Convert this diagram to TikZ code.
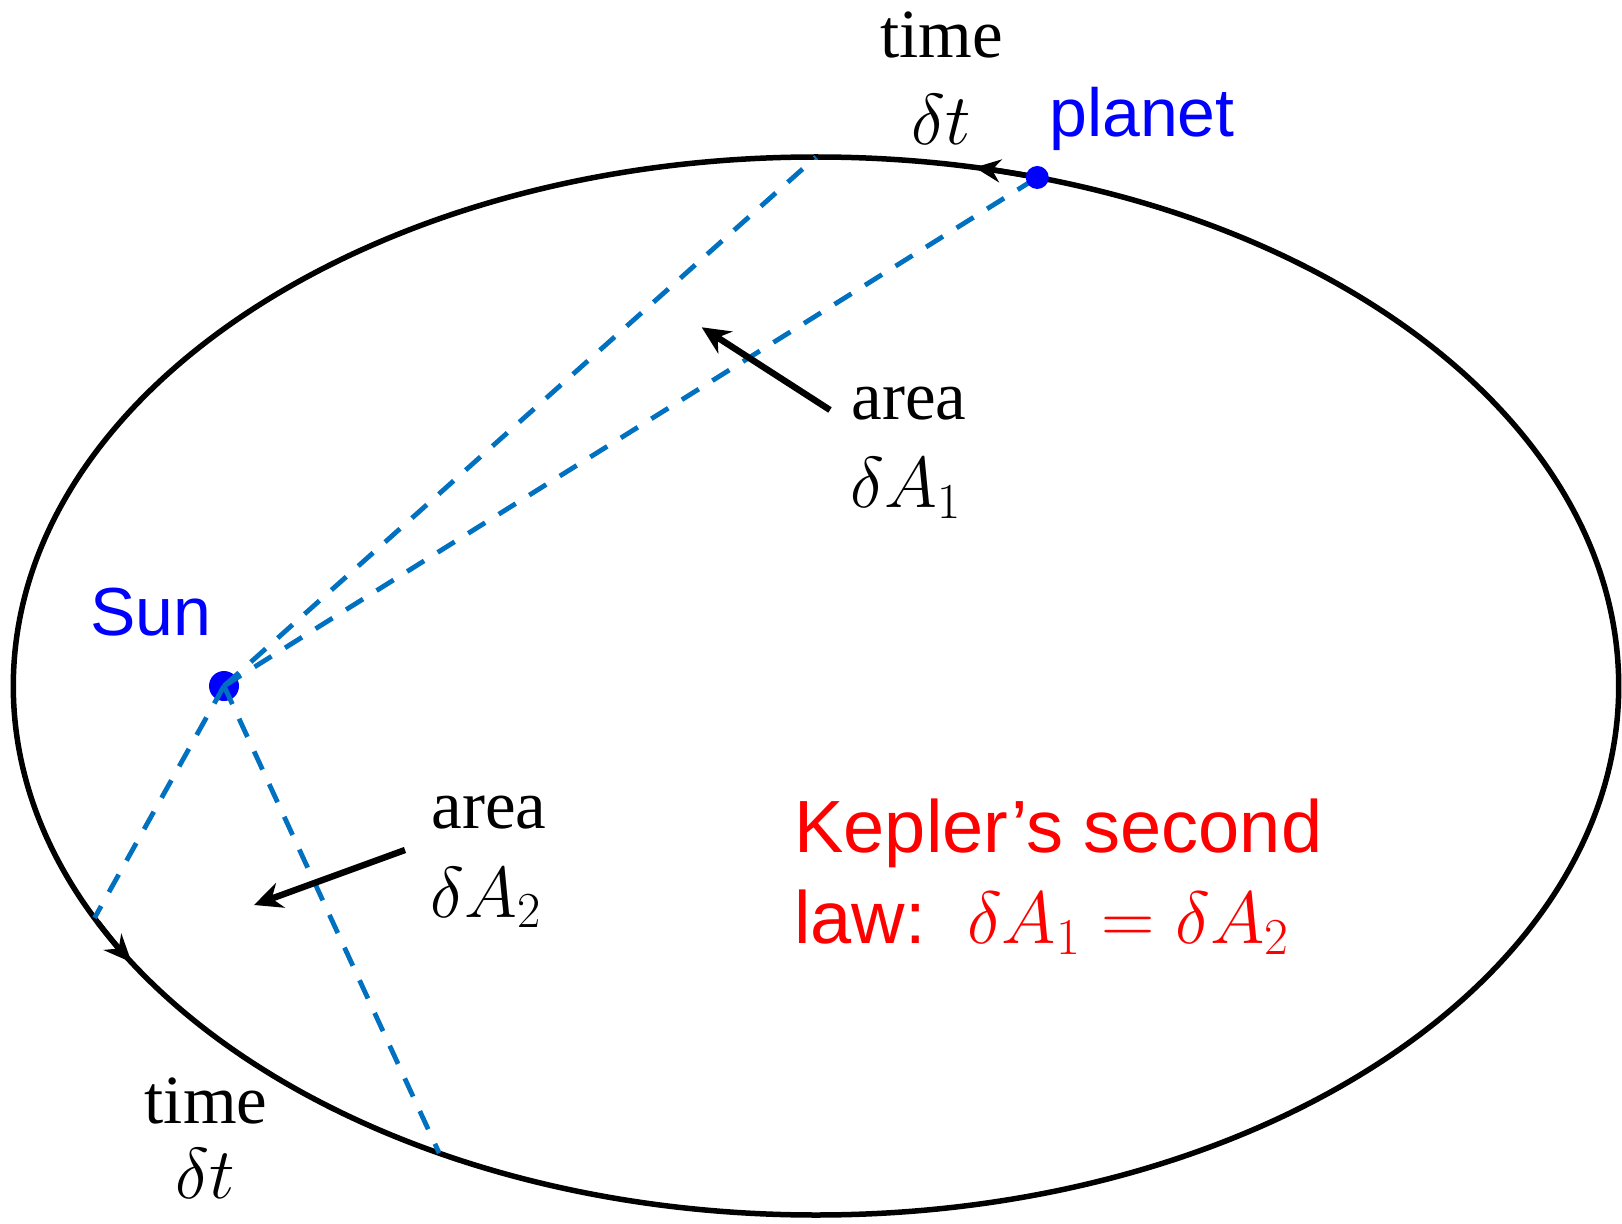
\RequirePackage{fix-cm}
\documentclass[tikz,border=0pt]{standalone}
\usepackage{fontspec}
\setmainfont{Liberation Serif}
\newfontfamily\arialfont{Liberation Sans}
\usetikzlibrary{arrows.meta}

\definecolor{rayblue}{RGB}{0,112,192}

\begin{document}
\begin{tikzpicture}[x=0.5pt,y=0.5pt,
  orbit/.style={line width=2.75pt},
  ray/.style={rayblue,line width=2.4pt,dash pattern=on 10pt off 8pt},
  body/.style={circle,fill=blue,inner sep=0pt},
  pointer/.style={line width=3.2pt,-{Stealth[length=14pt,width=13pt]}},
  txt/.style={inner sep=0pt,anchor=base,font=\fontsize{34.5}{40}\selectfont},
  sym/.style={inner sep=0pt,anchor=base,font=\fontsize{36}{40}\selectfont},
  lbl/.style={inner sep=0pt,anchor=base west,blue,font=\arialfont\fontsize{34}{40}\selectfont},
  law/.style={inner sep=0pt,anchor=base west,red,font=\arialfont\fontsize{37}{44}\selectfont}]
\useasboundingbox (0,0) rectangle (1622,1223);

% orbit and its direction
\coordinate (c) at (816,537);
\draw[orbit] (c) ellipse [x radius=802.7, y radius=529];
\draw[orbit,-{Stealth[length=13pt,width=11.5pt]}] (c) ++(74.5:802.7 and 529)
  arc [start angle=74.5, end angle=78.6, x radius=802.7, y radius=529];
\draw[orbit,-{Stealth[length=14pt,width=12pt]}] (c) ++(206.5:802.7 and 529)
  arc [start angle=206.5, end angle=211.5, x radius=802.7, y radius=529];

% sun, points on the orbit
\node[body,minimum size=15pt] (sun) at (224,537) {};
\path (c) +(90:802.7 and 529) coordinate (top)
          +(74:802.7 and 529) coordinate (p)
          +(206:802.7 and 529) coordinate (lowa)
          +(242:802.7 and 529) coordinate (lowb);

% swept areas
\draw[ray] (sun.center) -- (top);
\draw[ray] (sun.center) -- (p);
\draw[ray] (sun.center) -- (lowa);
\draw[ray] (sun.center) -- (lowb);
\node[body,minimum size=11.5pt] (planet) at (p) {};

% labels
\node[lbl] (sunlbl) at (90,588) {Sun};
\node[lbl] (planetlbl) at (1049,1086) {planet};
\node[txt] (time1) at (941.5,1165) {time};
\node[sym] (dt1) at (941,1078) {$\delta t$};
\node[txt] (time2) at (206,100) {time};
\node[sym] (dt2) at (205,25) {$\delta t$};
\node[txt] (area1) at (909,803) {area};
\node[sym] (dA1) at (906,715) {$\delta A_1$};
\node[txt] (area2) at (489,395) {area};
\node[sym] (dA2) at (486,306) {$\delta A_2$};
\node[law] (law1) at (794,371) {Kepler’s second};
\node[law] (law2) at (794,280) {law:\ \ $\delta A_1=\delta A_2$};

% pointers
\coordinate (a1tail) at (830,813);
\coordinate (a1tip) at (701.7,895.7);
\coordinate (a2tail) at (405,373);
\coordinate (a2tip) at (254,318);
\draw[pointer] (a1tail) -- (a1tip);
\draw[pointer] (a2tail) -- (a2tip);
\end{tikzpicture}
\end{document}
